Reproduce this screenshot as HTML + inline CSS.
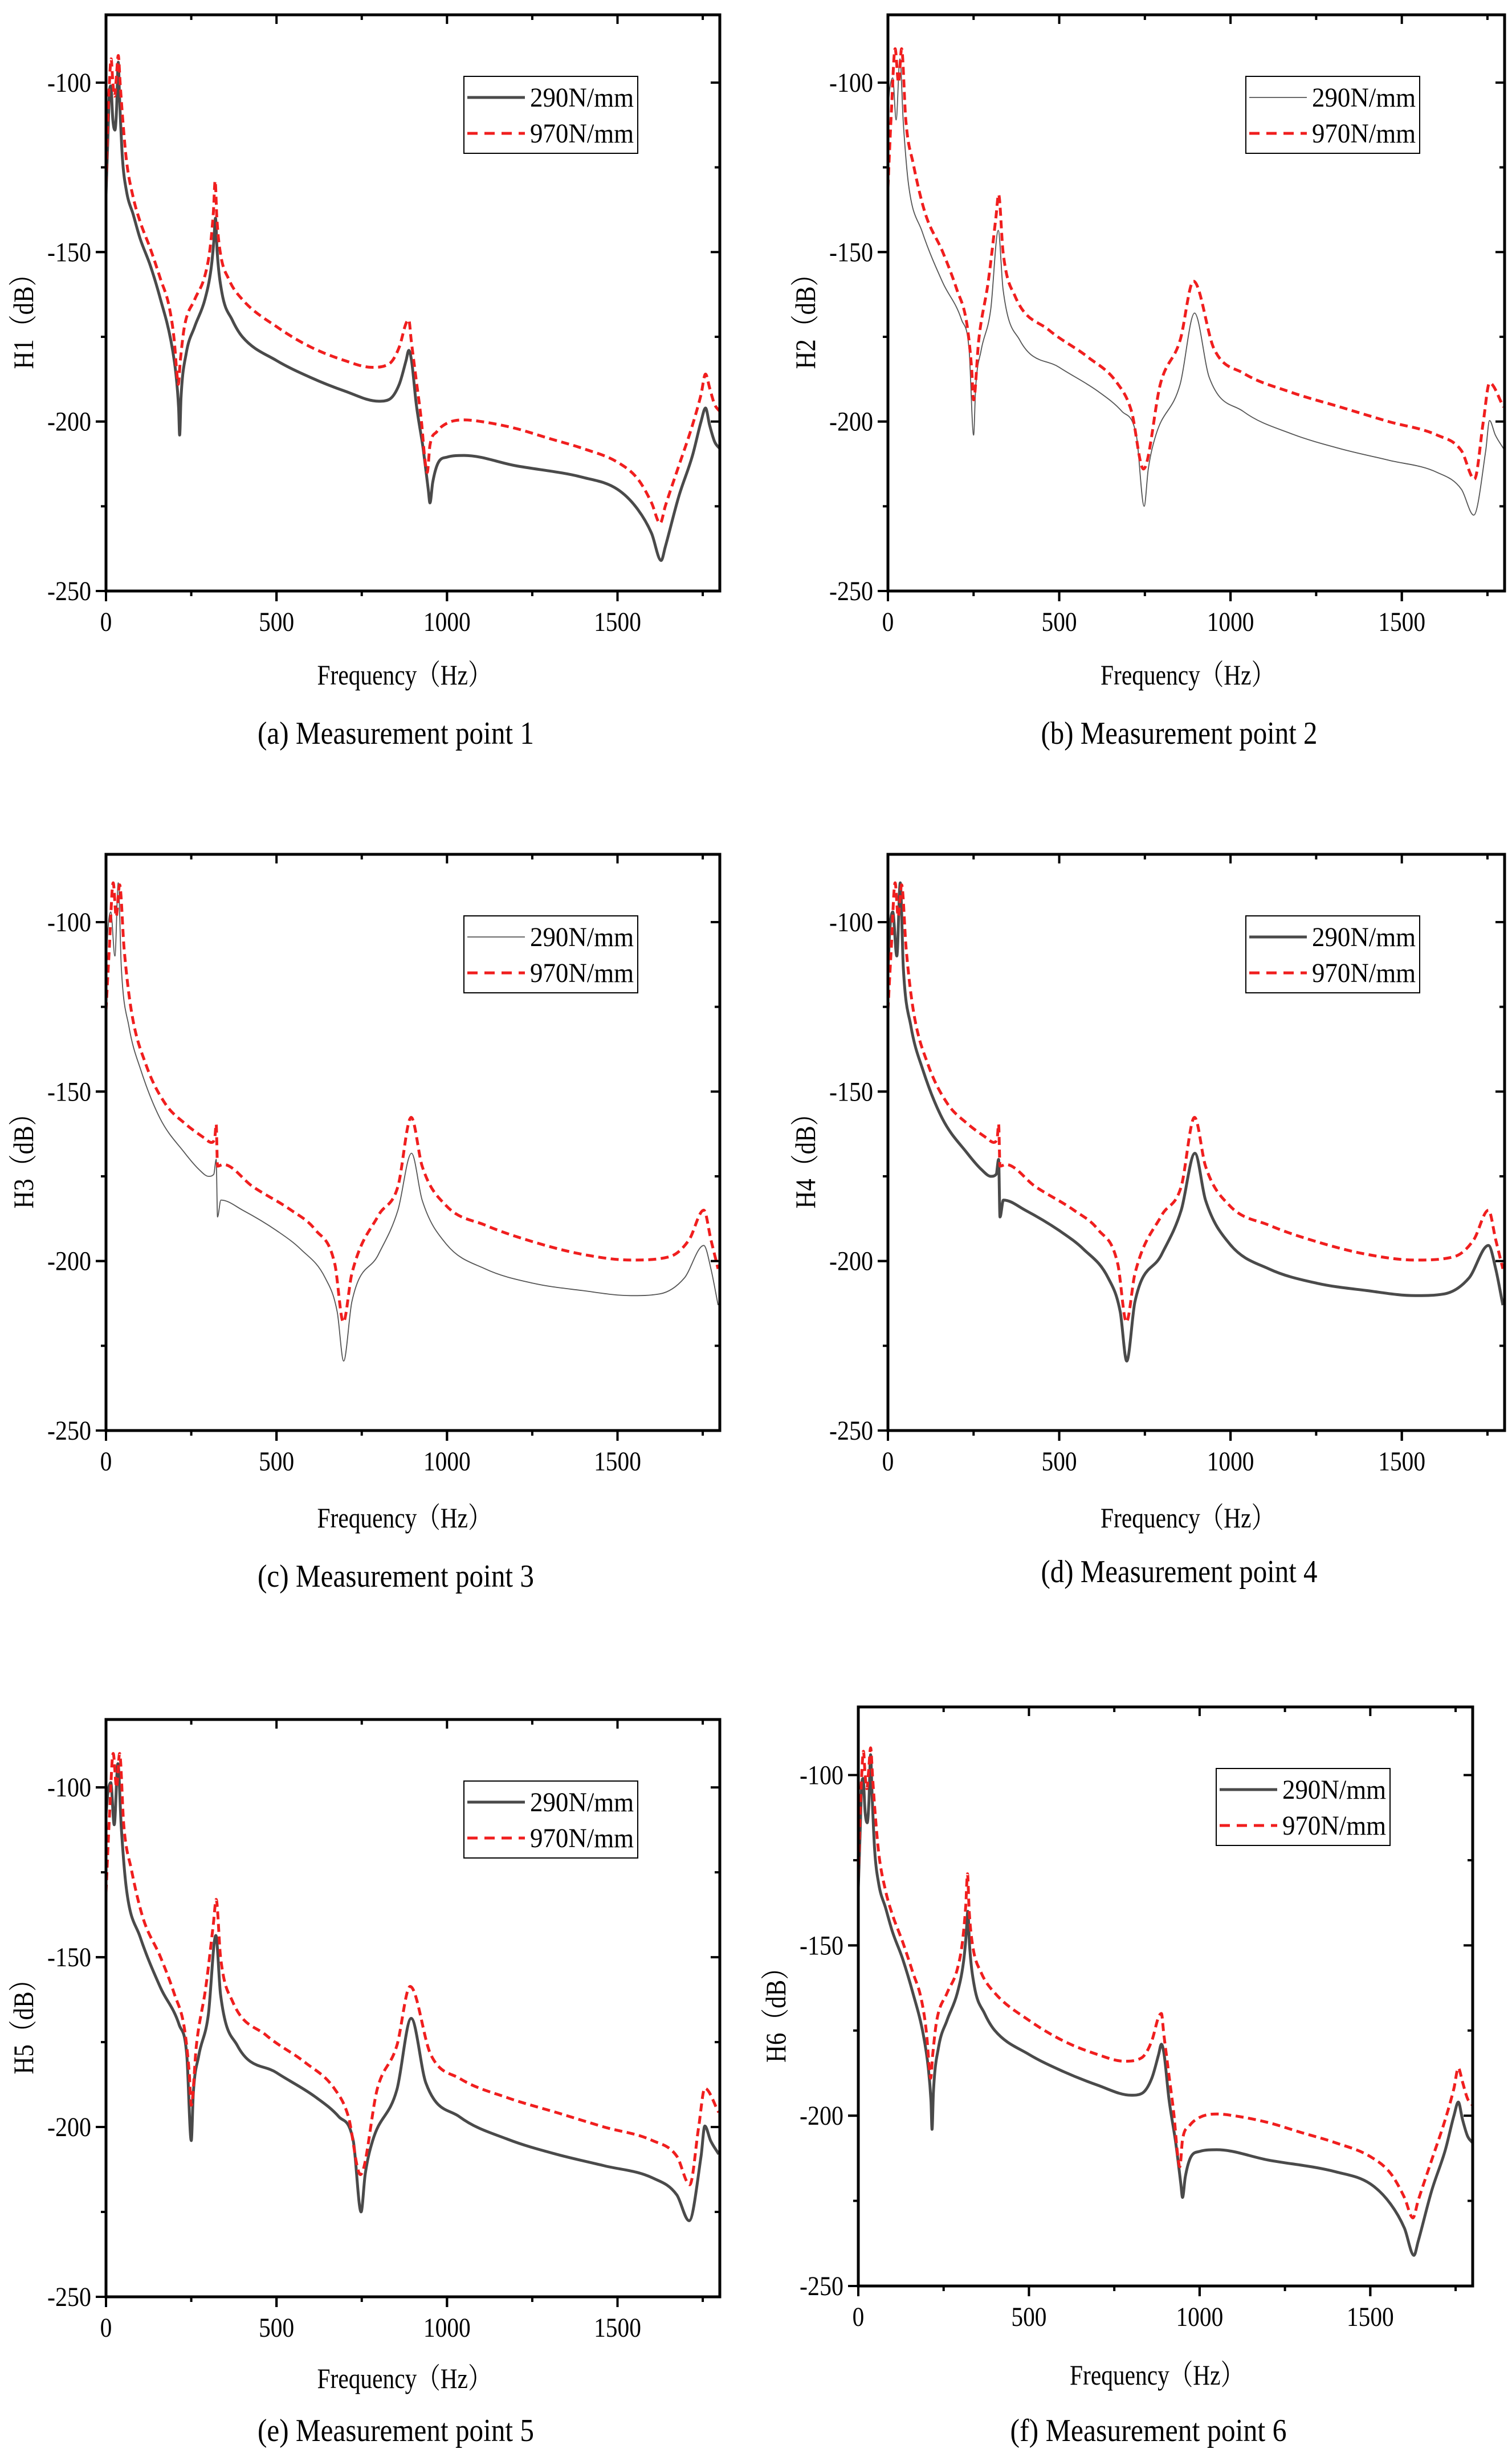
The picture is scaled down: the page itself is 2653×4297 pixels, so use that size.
<!DOCTYPE html>
<html><head><meta charset="utf-8"><style>
html,body{margin:0;padding:0;background:#fff}
svg{display:block}
text{font-family:"Liberation Serif","Noto Serif CJK SC",serif;fill:#000}
</style></head><body>
<svg id="fig" xmlns="http://www.w3.org/2000/svg" width="2653" height="4297" viewBox="0 0 2653 4297"></svg>
<script>
// Frequencies (Hz) and dB values
const freqA290=[0,5,10,14,20,26,31,36,40,48,60,80,100,130,160,190,205,213,216,220,235,260,290,308,316,321,326,340,370,400,500,600,700,800,830,860,880,888,896,910,930,945,950,958,975,1000,1050,1200,1400,1500,1560,1600,1628,1640,1680,1720,1745,1758,1770,1785,1800];
const dbA290=[-133,-118,-103,-101,-111,-114,-108,-94,-105,-122,-132,-139,-146,-154,-164,-176,-186,-196,-204,-193,-180,-172,-164,-155,-147,-140,-150,-162,-170,-175,-182,-187,-191,-194,-193.5,-189,-182,-179,-182,-195,-208,-220,-224,-218,-212,-210.5,-210,-213,-216.5,-220,-226,-233,-241,-237,-222,-210,-200,-196,-201,-206,-208];
const freqA970=[0,5,10,15,20,25,30,36,42,50,60,80,100,130,160,185,200,208,212,218,230,260,290,305,315,320,325,335,360,400,500,600,700,780,830,860,880,888,895,910,925,935,942,950,970,1000,1050,1100,1200,1300,1400,1500,1560,1600,1625,1640,1680,1720,1745,1758,1770,1785,1800];
const dbA970=[-130,-112,-100,-93,-100,-104,-99,-92,-101,-112,-123,-134,-141,-149,-158,-166,-176,-186,-189,-182,-172,-164,-157,-149,-138,-129,-140,-150,-158,-164,-172,-178,-182,-184,-183,-178,-171,-170,-176,-188,-200,-211,-215,-207,-203,-200.5,-199.5,-200,-202,-205,-208,-212,-217,-224,-230,-225,-213,-201,-192,-186,-190,-195,-197];
const freqB290=[0,5,14,24,35,45,60,100,160,215,237,250,256,272,300,322,336,385,500,612,683,725,748,760,782,853,895,938,1037,1178,1320,1461,1603,1674,1710,1745,1756,1773,1797];
const dbB290=[-108,-102,-98.6,-111,-93,-112,-130,-144,-159,-170,-179,-204,-190,-179,-167,-143.6,-161,-176,-184,-191,-197,-204,-225,-214,-204,-189,-168,-187,-197,-203.6,-208,-211.4,-215,-220,-227.6,-208.6,-199.7,-204,-208];
const freqB970=[0,10,21,31,40,52,74,109,160,201,230,244,250,265,293,315,323,336,371,470,584,669,711,746,796,853,892,952,1037,1178,1320,1461,1603,1674,1712,1738,1756,1797];
const dbB970=[-131,-108.6,-90,-100,-90,-111,-124,-138.6,-150,-161,-171,-184,-193.6,-176,-158.6,-140,-133,-150,-163,-173,-181,-188.6,-197,-214,-188.6,-176,-158.6,-178.6,-185.7,-191.4,-195.7,-200,-204,-208.6,-217,-200,-188.6,-195.7];
const freqC290=[0,5,14,26,36,45,67,102,159,230,273,301,316,323,327,337,401,500,572,643,678,697,721,799,856,896,927,998,1112,1255,1397,1539,1624,1696,1753,1774,1795];
const dbC290=[-115,-103,-97,-110,-88.4,-113.5,-130.7,-143.6,-158,-168,-173,-175,-174.4,-170,-187,-182,-185,-191,-196.6,-205,-215,-229.5,-212,-198,-185,-168.2,-182,-195,-202.3,-206.6,-208.7,-210.2,-209.7,-205,-195.4,-202.3,-213];
const freqC970=[0,9,21,30,40,53,74,117,174,230,287,309,319,323,327,344,430,543,614,671,696,721,799,856,895,927,998,1112,1255,1397,1539,1653,1710,1753,1774,1795];
const dbC970=[-126,-109,-88.4,-98.4,-89,-107.7,-126,-142,-153.6,-159.3,-163.6,-165,-163.6,-159.6,-172,-171.5,-178,-185,-190.8,-200.9,-218,-203.7,-186.5,-178,-157.6,-172,-183.7,-189.4,-194.4,-198,-199.7,-198.7,-193.7,-185,-193.7,-202.3];
const xTicks=[0,500,1000,1500];
const yTicks=[-100,-150,-200,-250];
const legendLabels=["290N/mm","970N/mm"];

const NS="http://www.w3.org/2000/svg";
const svg=document.getElementById('fig');
function mk(tag,attrs,parent){const e=document.createElementNS(NS,tag);for(const k in attrs)e.setAttribute(k,attrs[k]);(parent||svg).appendChild(e);return e;}

// monotone cubic (Fritsch-Carlson) path through pixel points
function smoothPath(X,Y){
 const n=X.length;if(n<2)return '';
 const d=[],m=new Array(n);
 for(let i=0;i<n-1;i++)d.push((Y[i+1]-Y[i])/(X[i+1]-X[i]||1e-6));
 m[0]=d[0];m[n-1]=d[n-2];
 for(let i=1;i<n-1;i++){ if(d[i-1]*d[i]<=0)m[i]=0; else m[i]=(d[i-1]+d[i])/2; }
 for(let i=0;i<n-1;i++){
  if(d[i]===0){m[i]=0;m[i+1]=0;continue;}
  const a=m[i]/d[i],b=m[i+1]/d[i],s=a*a+b*b;
  if(s>9){const t=3/Math.sqrt(s);m[i]=t*a*d[i];m[i+1]=t*b*d[i];}
 }
 let p='M'+X[0].toFixed(1)+' '+Y[0].toFixed(1);
 for(let i=0;i<n-1;i++){
  const h=(X[i+1]-X[i])/3;
  p+=' C'+(X[i]+h).toFixed(1)+' '+(Y[i]+m[i]*h).toFixed(1)+' '+(X[i+1]-h).toFixed(1)+' '+(Y[i+1]-m[i+1]*h).toFixed(1)+' '+X[i+1].toFixed(1)+' '+Y[i+1].toFixed(1);
 }
 return p;
}

const panels=[
 {key:'a',L:186,R:1263,T:26,B:1037,yl:'H1（dB）',cap:'(a) Measurement point 1',thin:false,f2:freqA290,d2:dbA290,f9:freqA970,d9:dbA970,fy:1185,cy:1287},
 {key:'b',L:1558,R:2640,T:26,B:1037,yl:'H2（dB）',cap:'(b) Measurement point 2',thin:true,f2:freqB290,d2:dbB290,f9:freqB970,d9:dbB970,fy:1185,cy:1287},
 {key:'c',L:186,R:1263,T:1499,B:2510,yl:'H3（dB）',cap:'(c) Measurement point 3',thin:true,f2:freqC290,d2:dbC290,f9:freqC970,d9:dbC970,fy:2664,cy:2766},
 {key:'d',L:1558,R:2640,T:1499,B:2510,yl:'H4（dB）',cap:'(d) Measurement point 4',thin:false,f2:freqC290,d2:dbC290,f9:freqC970,d9:dbC970,fy:2664,cy:2758},
 {key:'e',L:186,R:1263,T:3017,B:4030,yl:'H5（dB）',cap:'(e) Measurement point 5',thin:false,f2:freqB290,d2:dbB290,f9:freqB970,d9:dbB970,fy:4174,cy:4265},
 {key:'f',L:1506,R:2584,T:2995,B:4011,yl:'H6（dB）',cap:'(f) Measurement point 6',thin:false,f2:freqA290,d2:dbA290,f9:freqA970,d9:dbA970,fy:4168,cy:4265}
];
const DARK='#4a4a4a', RED='#f01e1e';

panels.forEach(p=>{
 const g=mk('g',{});
 
 
 const xs=f=>p.L+(f/1800)*(p.R-p.L);
 const ys=v=>p.T+((-80-v)/170)*(p.B-p.T);
 const cx=(p.L+p.R)/2;
 const path=(fa,da)=>smoothPath(fa.map(xs),da.map(ys));
 const l2=mk('path',{d:path(p.f2,p.d2),fill:'none',stroke:p.thin?'#555':DARK,'stroke-width':p.thin?1.8:5,'stroke-linejoin':'round'},g);
 
 
 const l9=mk('path',{d:path(p.f9,p.d9),fill:'none',stroke:RED,'stroke-width':5,'stroke-dasharray':'14 8'},g);
 
 
 const fr=mk('rect',{x:p.L,y:p.T,width:p.R-p.L,height:p.B-p.T,fill:'none',stroke:'#000','stroke-width':5},g);
 
 
 for(let f=250;f<1800;f+=250){
  const maj=f%500===0;
  mk('line',{x1:xs(f),x2:xs(f),y1:p.B,y2:p.B+(maj?18:9),stroke:'#000','stroke-width':4},g);
  mk('line',{x1:xs(f),x2:xs(f),y1:p.T,y2:p.T+(maj?16:9),stroke:'#000','stroke-width':4},g);
 }
 for(let v=-100;v>-250;v-=25){
  const maj=v%50===0;
  mk('line',{x1:p.L,x2:p.L-(maj?18:9),y1:ys(v),y2:ys(v),stroke:'#000','stroke-width':4},g);
  mk('line',{x1:p.R,x2:p.R-(maj?16:9),y1:ys(v),y2:ys(v),stroke:'#000','stroke-width':4},g);
 }
 yTicks.forEach(v=>{
  mk('line',{x1:p.L-18,x2:p.L,y1:ys(v),y2:ys(v),stroke:'#000','stroke-width':4},g);
  const s=String(v);
  const t=mk('text',{x:p.L-26,y:ys(v)+16,'text-anchor':'end','font-size':48,textLength:(s.length-1)*21+14,lengthAdjust:'spacingAndGlyphs'},g);
  t.textContent=s;
  
  
 });
 xTicks.forEach(f=>{
  mk('line',{x1:xs(f),x2:xs(f),y1:p.B,y2:p.B+18,stroke:'#000','stroke-width':4},g);
  const s=String(f);
  const t=mk('text',{x:xs(f),y:p.B+70,'text-anchor':'middle','font-size':48,textLength:s.length*20.7,lengthAdjust:'spacingAndGlyphs'},g);
  t.textContent=s;
  
  
 });
 const xt=mk('text',{x:cx-15,y:p.fy+16,'text-anchor':'middle','font-size':50,textLength:306,lengthAdjust:'spacingAndGlyphs'},g);
 xt.textContent='Frequency（Hz）';
 
 
 const ymid=(p.T+p.B)/2+22;
 const yt=mk('text',{x:0,y:0,'text-anchor':'middle','font-size':50,textLength:188,lengthAdjust:'spacingAndGlyphs',transform:`translate(${p.L-128},${ymid}) rotate(-90)`},g);
 yt.textContent=p.yl;
 
 
 const cap=mk('text',{x:cx-30,y:p.cy+18,'text-anchor':'middle','font-size':56,textLength:485,lengthAdjust:'spacingAndGlyphs'},g);
 cap.textContent=p.cap;
 
 
 const lg=mk('g',{},g);
 
 
 const bx=p.L+628, by=p.T+108;
 mk('rect',{x:bx,y:by,width:305,height:135,fill:'#fff',stroke:'#000','stroke-width':2},lg);
 mk('line',{x1:bx+6,x2:bx+107,y1:by+37,y2:by+37,stroke:p.thin?'#555':DARK,'stroke-width':p.thin?1.8:5},lg);
 mk('line',{x1:bx+6,x2:bx+107,y1:by+100,y2:by+100,stroke:RED,'stroke-width':5,'stroke-dasharray':'18 12'},lg);
 legendLabels.forEach((s,i)=>{
  const t=mk('text',{x:bx+116,y:by+53+i*63,'font-size':48,textLength:182,lengthAdjust:'spacingAndGlyphs'},lg);
  t.textContent=s;
  
  
 });
});
</script>
</body></html>
